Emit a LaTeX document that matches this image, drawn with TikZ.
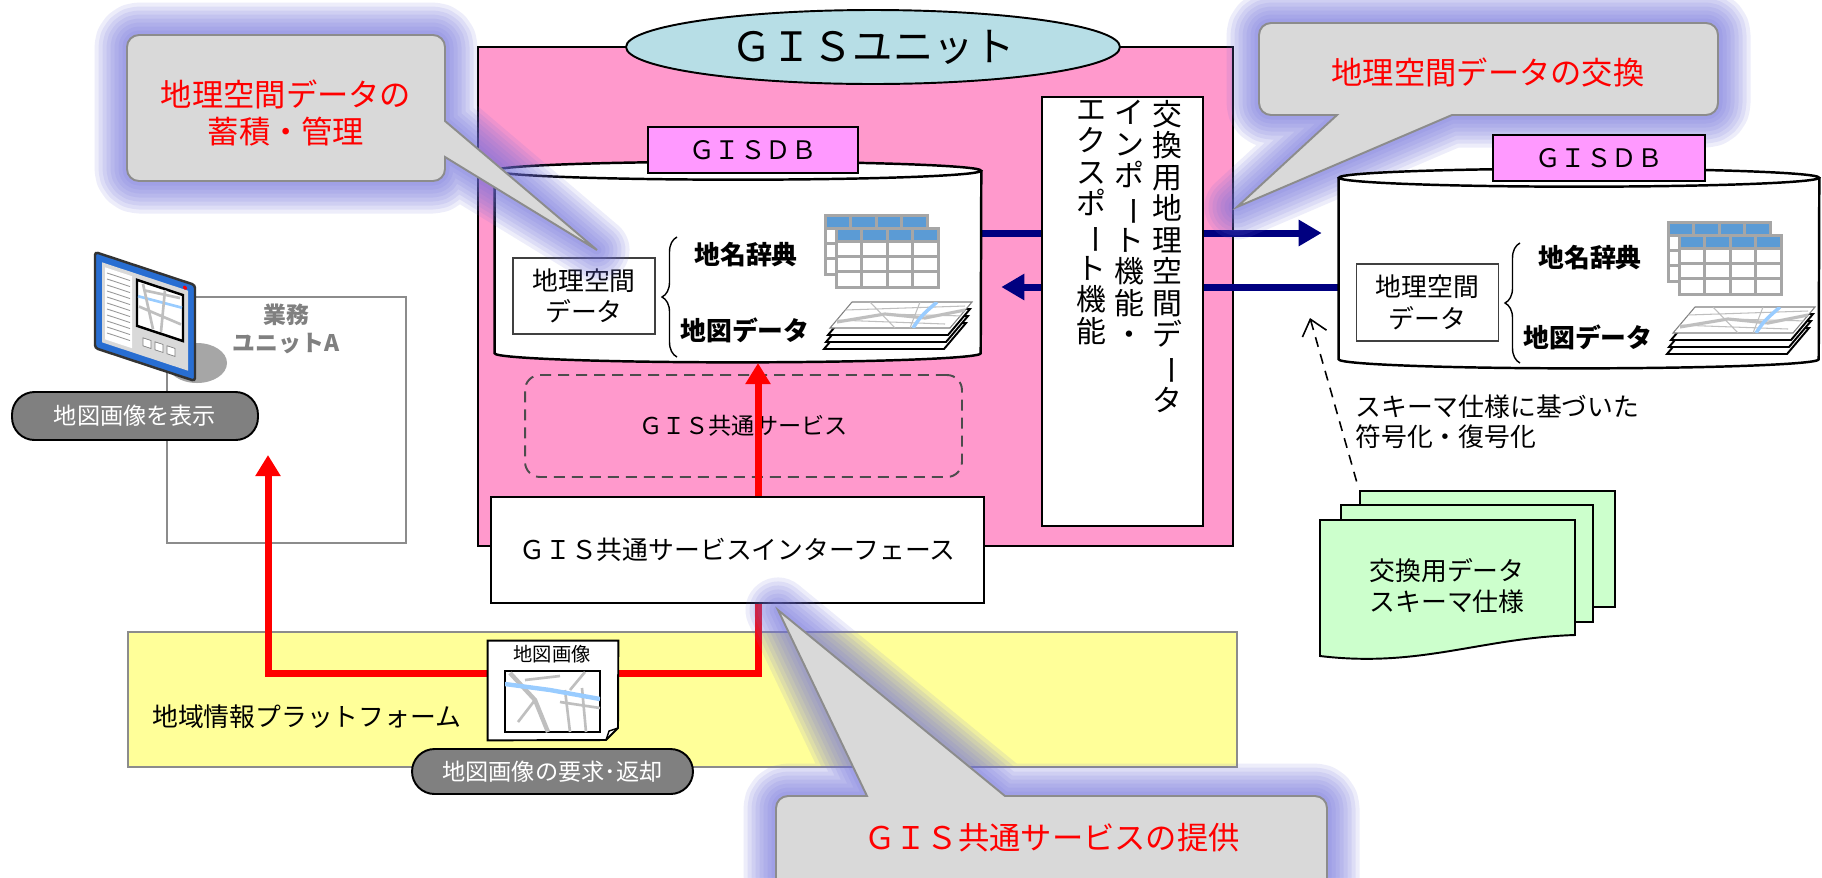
\documentclass[tikz,border=0pt]{standalone}
\usepackage{fontspec}
\setmainfont{Noto Sans CJK JP}
\usepackage{graphicx}
\usepackage{xcolor}
\usepackage{tikz}
\usetikzlibrary{shapes.geometric, arrows.meta, positioning, decorations.pathreplacing, calc}

\definecolor{unitpink}{RGB}{255,153,204}
\definecolor{unitteal}{RGB}{183,222,230}
\definecolor{dbpink}{RGB}{255,153,255}
\definecolor{notegray}{RGB}{217,217,217}
\definecolor{noteedge}{RGB}{140,140,140}
\definecolor{glowc}{RGB}{110,110,220}
\definecolor{platyellow}{RGB}{255,255,153}
\definecolor{specgreen}{RGB}{204,255,204}
\definecolor{pillgray}{RGB}{128,128,128}
\definecolor{tblblue}{RGB}{91,155,213}
\definecolor{tblgray}{RGB}{166,166,166}
\definecolor{roadgray}{RGB}{191,191,191}
\definecolor{riverblue}{RGB}{153,204,255}
\definecolor{monblue}{RGB}{40,110,210}
\definecolor{navyc}{RGB}{0,0,128}

% long vowel mark for top-to-bottom text
\newcommand{\tatebar}{\rotatebox[origin=c]{-90}{ー}}

\tikzset{
  plainbox/.style={draw, line width=1.4pt, fill=white, inner sep=0pt, align=center},
  dblabel/.style={draw, line width=1.4pt, fill=dbpink, inner sep=0pt, minimum height=0.92cm, font=\fontsize{14.5}{18}\selectfont},
  geobox/.style={draw=black!75, line width=1.1pt, fill=white, inner sep=0pt, align=center, minimum width=2.84cm, minimum height=1.53cm, font=\fontsize{14.7}{18}\selectfont},
  itemtext/.style={font=\bfseries\fontsize{14.7}{17}\selectfont},
  brace/.style={decorate, decoration={brace, amplitude=0.3cm}, line width=0.8pt},
  cyl/.style={draw, line width=1.4pt},
  pill/.style={draw, line width=1.1pt, fill=pillgray, text=white, rounded corners=0.45cm, inner sep=0pt, font=\fontsize{13.2}{16}\selectfont},
  tate/.style={anchor=north, align=center, inner sep=0pt, font=\fontsize{17}{17.9}\selectfont},
  note/.style={draw=noteedge, line width=1.1pt, fill=notegray},
  notetext/.style={text=red, align=center, inner sep=0pt, font=\fontsize{17.8}{21}\selectfont},
  halo/.style={preaction={draw=glowc, draw opacity=.12, line width=#1, line join=round}},
  glow/.style={halo=1.3cm, halo=1.14cm, halo=0.98cm, halo=0.82cm, halo=0.66cm, halo=0.5cm, halo=0.34cm, halo=0.18cm},
  navyline/.style={draw=navyc, line width=0.14cm, -{Triangle[length=0.46cm, width=0.5cm]}},
  redline/.style={draw=red, line width=0.14cm, -{Triangle[length=0.42cm, width=0.48cm]}},
  specpage/.style={draw, line width=1.1pt, fill=specgreen, inner sep=0pt},
  specline/.style={dash pattern=on 0.2cm off 0.15cm, line width=0.9pt, -{Straight Barb[length=0.3cm, width=0.5cm]}},
  svcbox/.style={draw=black!70, line width=1.1pt, dash pattern=on 0.22cm off 0.14cm, rounded corners=0.3cm, minimum width=8.74cm, minimum height=2.04cm, font=\fontsize{13.2}{16}\selectfont},
  % two stacked spreadsheet pages
  tableicon/.pic={
    \foreach \dx/\dy in {0/0, 11/13} {
      \begin{scope}[shift={(\dx,\dy)}]
        \fill[white] (0,0) rectangle (102,59);
        \fill[tblblue] (0,0) rectangle (102,13);
        \foreach \c in {25.5,51,76.5} \draw[tblgray, line width=1.7pt] (\c,0) -- (\c,59);
        \foreach \r in {13,28,43} \draw[tblgray, line width=1.7pt] (0,\r) -- (102,\r);
        \draw[tblgray, line width=1.7pt] (0,0) rectangle (102,59);
      \end{scope}
    }
  },
  % layered map sheets
  mapstack/.pic={
    \foreach \k in {3,2,1}
      \filldraw[fill=white, draw=black, line width=1.1pt, shift={(-2*\k,7*\k)}] (5,26) -- (27,0) -- (147,0) -- (125,26) -- cycle;
    \filldraw[fill=white, draw=black!50, line width=0.6pt] (5,26) -- (27,0) -- (147,0) -- (125,26) -- cycle;
    \begin{scope}
      \clip (5,26) -- (27,0) -- (147,0) -- (125,26) -- cycle;
      \draw[roadgray, line width=0.6pt] (20,8) -- (140,4) (10,18) -- (120,22) (45,0) -- (70,26) (95,0) -- (85,26) (60,12) -- (140,14);
      \draw[roadgray, line width=1.8pt] (12,20) -- (60,12) -- (100,16) -- (140,8);
      \draw[riverblue, line width=2pt] (88,26) .. controls (96,14) .. (112,0);
    \end{scope}
  },
  % terminal showing a map
  monitor/.pic={
    \begin{scope}[yslant=-0.33]
      \filldraw[fill=monblue, draw=black!80, line width=1.4pt, rounded corners=0.06cm] (0,0) rectangle (100,96);
      \fill[black!15] (7,8) rectangle (93,88);
      \fill[white] (10,12) rectangle (37,84);
      \foreach \r in {17,23,...,79} \draw[black!40, line width=0.5pt] (12,\r) -- (35,\r);
      \filldraw[fill=white, draw=black, line width=1.4pt] (42,14) rectangle (88,60);
      \draw[riverblue, line width=1.5pt] (43,30) -- (87,27);
      \draw[roadgray, line width=1.5pt] (48,16) -- (58,58) (44,40) -- (86,44) (70,15) -- (66,58) (50,22) -- (85,18);
      \foreach \b in {48,60,72} \filldraw[fill=white, draw=black!50, line width=0.4pt] (\b,70) rectangle (\b+8,78);
      \fill[red] (90,6) circle (2);
    \end{scope}
  }
}

\begin{document}
\begin{tikzpicture}[x=0.02cm, y=-0.02cm]
  \useasboundingbox (0,0) rectangle (1822,877);
  \fill[white] (0,0) rectangle (1822,877);

  % Business unit A
  \node[draw=black!45, line width=1.1pt, minimum width=4.78cm, minimum height=4.92cm] (biz) at (286.5,420) {};
  \node[text=black!50, align=center, font=\bfseries\fontsize{13}{16}\selectfont] (bizname) at (286,329) {業務\\ユニットA};
  \fill[black!35] (197,363) ellipse [x radius=30, y radius=20];
  \pic (screen) at (95,252) {monitor};
  \node[pill, minimum width=4.92cm, minimum height=0.96cm] (showmap) at (135,416) {地図画像を表示};

  % Regional platform
  \node[draw=black!45, fill=platyellow, line width=1.4pt, minimum width=22.18cm, minimum height=2.7cm] (platform) at (682.5,699.5) {};
  \node[anchor=west, font=\fontsize{14.7}{18}\selectfont] (platname) at (146,717) {地域情報プラットフォーム};

  % GIS unit
  \node[draw, line width=1.4pt, fill=unitpink, minimum width=15.1cm, minimum height=9.98cm] (gisunit) at (855.5,296.5) {};
  \node[draw, ellipse, line width=1.1pt, fill=unitteal, minimum width=9.88cm, minimum height=1.48cm, font=\fontsize{23}{26}\selectfont] (unitname) at (873,47) {ＧＩＳユニット};

  % Database cylinders (bodies)
  \node[inner sep=0pt, minimum width=9.72cm, minimum height=3.64cm] (db1) at (738,262) {};
  \node[inner sep=0pt, minimum width=9.6cm, minimum height=3.62cm] (db2) at (1579,268.5) {};

  % Exchange arrows
  \coordinate (upY) at (0,233);
  \coordinate (lowY) at (0,287);
  \draw[navyline, shorten >=0.34cm] (db1.east |- upY) -- (db2.west |- upY);
  \draw[navyline, shorten >=0.4cm] (db2.west |- lowY) -- (db1.east |- lowY);

  % Import / export box
  \node[plainbox, minimum width=3.22cm, minimum height=8.58cm] (xchg) at (1122.5,311.5) {};
  \node[tate] (xcol1) at (1167,100) {交\\換\\用\\地\\理\\空\\間\\デ\\\tatebar\\タ};
  \node[tate] (xcol2) at (1129,100) {イ\\ン\\ポ\\\tatebar\\ト\\機\\能\\・};
  \node[tate] (xcol3) at (1091,100) {エ\\ク\\ス\\ポ\\\tatebar\\ト\\機\\能};

  % GISDB inside the unit
  \fill[white] (db1.north west) -- (db1.south west) arc[start angle=180, end angle=0, x radius=243, y radius=9] -- (db1.north east) -- cycle;
  \draw[cyl] (db1.north west) -- (db1.south west) arc[start angle=180, end angle=0, x radius=243, y radius=9] -- (db1.north east);
  \filldraw[cyl, fill=white] (db1.north) ellipse [x radius=243, y radius=9];
  \node[dblabel, minimum width=4.2cm] (dbname1) at (753,150) {ＧＩＳＤＢ};
  \node[geobox] (geo1) at (584,296) {地理空間\\データ};
  \draw[brace] (677,357) -- (677,237);
  \node[itemtext] (gazet1) at (746,255) {地名辞典};
  \node[itemtext] (mapdata1) at (745,330) {地図データ};
  \pic (tbl1) at (825,215) {tableicon};
  \pic (maps1) at (825,302) {mapstack};

  % Common services
  \node[svcbox] (svc) at (743.5,426) {ＧＩＳ共通サービス};

  % Map image request path
  \coordinate (rowY) at (0,673);
  \coordinate (showTip) at (268,455);
  \coordinate (askTip) at (758,363);
  \node[inner sep=0pt, minimum width=2.6cm, minimum height=1.98cm] (mapdoc) at (553,690.5) {};
  \draw[redline] (mapdoc.west |- rowY) -| (showTip);
  \draw[redline] (mapdoc.east |- rowY) -| (askTip);

  \node[plainbox, minimum width=9.86cm, minimum height=2.12cm, font=\fontsize{14.7}{18}\selectfont] (svcif) at (737.5,550) {ＧＩＳ共通サービスインターフェース};

  % Map image document
  \filldraw[fill=white, line width=1.1pt] (mapdoc.north west) -- (mapdoc.north east) -- (618,728) -- (606,740) -- (mapdoc.south west) -- cycle;
  \draw[line width=0.8pt] (606,740) -- (609,731) -- (618,728);
  \node[font=\fontsize{11}{13}\selectfont] (mapdocname) at (552,654) {地図画像};
  \filldraw[fill=white, line width=1.4pt] (505,671) rectangle (600,732);
  \begin{scope}
    \clip (505,671) rectangle (600,732);
    \draw[roadgray, line width=2.5pt] (510,673) -- (535,700) -- (548,732);
    \draw[roadgray, line width=1.5pt] (525,680) -- (560,676) (560,702) -- (600,708) (565,690) -- (570,732) (582,688) -- (586,732) (518,722) -- (535,700) (585,672) -- (570,690);
    \draw[riverblue, line width=2.5pt] (505,684) -- (550,690) -- (600,699);
  \end{scope}
  \node[pill, minimum width=5.62cm, minimum height=0.9cm] (askmap) at (552.5,771.5) {地図画像の要求･返却};

  % Exchange note
  \draw[note, glow] (1259,69) [rounded corners=0.24cm] -- (1259,23) -- (1718,23) -- (1718,115) [sharp corners] -- (1452,115) -- (1237,207) -- (1337,115) [rounded corners=0.24cm] -- (1259,115) -- cycle;
  \node[notetext] (swapText) at (1488,72) {地理空間データの交換};

  % Receiving GISDB
  \fill[white] (db2.north west) -- (db2.south west) arc[start angle=180, end angle=0, x radius=240, y radius=9] -- (db2.north east) -- cycle;
  \draw[cyl] (db2.north west) -- (db2.south west) arc[start angle=180, end angle=0, x radius=240, y radius=9] -- (db2.north east);
  \filldraw[cyl, fill=white] (db2.north) ellipse [x radius=240, y radius=9];
  \node[dblabel, minimum width=4.24cm] (dbname2) at (1599,158) {ＧＩＳＤＢ};
  \node[geobox] (geo2) at (1427.5,302.5) {地理空間\\データ};
  \draw[brace] (1520,363) -- (1520,243);
  \node[itemtext] (gazet2) at (1590,258) {地名辞典};
  \node[itemtext] (mapdata2) at (1588,337) {地図データ};
  \pic (tbl2) at (1668,222) {tableicon};
  \pic (maps2) at (1668,307) {mapstack};

  % Schema specification pages
  \node[specpage, minimum width=5.1cm, minimum height=2.32cm] (specback) at (1487.5,549) {};
  \node[specpage, minimum width=5.04cm, minimum height=2.34cm] (specmid) at (1467,563.5) {};
  \filldraw[fill=specgreen, line width=1.1pt] (1320,520) -- (1575,520) -- (1575,635) .. controls (1480,638) and (1420,668) .. (1320,656) -- cycle;
  \node[align=center, font=\fontsize{14.7}{18}\selectfont] (spec) at (1447,586) {交換用データ\\スキーマ仕様};
  \coordinate (specTip) at (1310,318);
  \draw[specline, shorten <=0.18cm] (specback.north west) -- (specTip);
  \node[anchor=west, align=left, inner sep=0pt, font=\fontsize{14.7}{17}\selectfont] (codec) at (1355,422) {スキーマ仕様に基づいた\\符号化・復号化};

  % Storage note
  \draw[note, glow] (127,108) [rounded corners=0.24cm] -- (127,35) -- (445,35) [sharp corners] -- (445,121) -- (597,250) -- (445,157) [rounded corners=0.24cm] -- (445,181) -- (127,181) -- cycle;
  \node[notetext] (storeText) at (286,113) {地理空間データの\\蓄積・管理};

  % Service note
  \draw[note, glow] (776,850) [rounded corners=0.24cm] -- (776,796) [sharp corners] -- (867,796) -- (778,610) -- (1005,796) [rounded corners=0.24cm] -- (1327,796) -- (1327,900) -- (776,900) -- cycle;
  \node[notetext] (serveText) at (1052,838) {ＧＩＳ共通サービスの提供};
\end{tikzpicture}
\end{document}
